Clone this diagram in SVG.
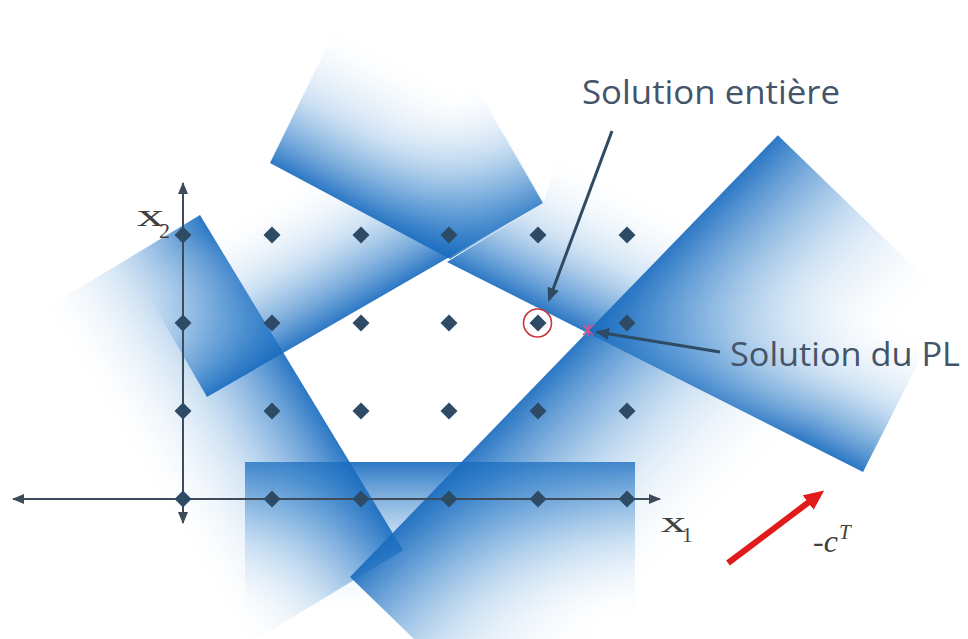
<svg xmlns="http://www.w3.org/2000/svg" xmlns:xlink="http://www.w3.org/1999/xlink" width="968" height="639" viewBox="0 0 968 639">
<defs>
<style>
.band{fill:url(#fade)}
.pt{fill:#2e4b66}
.axis{stroke:#3d4b5a;stroke-width:2;fill:none}
.ptr{stroke:#2f4a63;stroke-width:3;fill:none}
.lbl{font-family:"Open Sans","Liberation Sans",sans-serif;fill:#44546a}
.math{font-family:"Liberation Serif","DejaVu Serif",serif;fill:#404040}
</style>
<linearGradient id="fade" x1="0" y1="0" x2="0" y2="1">
<stop offset="0" stop-color="#1a6cbf" stop-opacity="0.92"/>
<stop offset="0.12" stop-color="#2a79c6" stop-opacity="0.74"/>
<stop offset="0.45" stop-color="#6aa5db" stop-opacity="0.32"/>
<stop offset="0.9" stop-color="#ffffff" stop-opacity="0"/>
</linearGradient>
<linearGradient id="fadeT" gradientUnits="userSpaceOnUse" x1="360" y1="211" x2="438" y2="65">
<stop offset="0" stop-color="#1a6cbf" stop-opacity="0.92"/>
<stop offset="0.12" stop-color="#2a79c6" stop-opacity="0.74"/>
<stop offset="0.45" stop-color="#6aa5db" stop-opacity="0.32"/>
<stop offset="0.95" stop-color="#ffffff" stop-opacity="0"/>
</linearGradient>
<linearGradient id="fadeR2" gradientUnits="userSpaceOnUse" x1="655" y1="367" x2="727" y2="224">
<stop offset="0" stop-color="#1a6cbf" stop-opacity="0.92"/>
<stop offset="0.12" stop-color="#2a79c6" stop-opacity="0.74"/>
<stop offset="0.45" stop-color="#6aa5db" stop-opacity="0.32"/>
<stop offset="0.95" stop-color="#ffffff" stop-opacity="0"/>
</linearGradient>
<path id="dia" d="M0,-8.5 L8.5,0 L0,8.5 L-8.5,0 Z"/>
<marker id="ah" viewBox="0 0 12 10" refX="11" refY="5" markerWidth="12" markerHeight="10" markerUnits="userSpaceOnUse" orient="auto-start-reverse">
<path d="M0,0 L12,5 L0,10 Z" fill="#3d4b5a"/>
</marker>
<marker id="ap" viewBox="0 0 14 12" refX="12" refY="6" markerWidth="14" markerHeight="12" markerUnits="userSpaceOnUse" orient="auto">
<path d="M0,0 L14,6 L0,12 Z" fill="#2f4a63"/>
</marker>
<marker id="ar" viewBox="0 0 20 18" refX="1" refY="9" markerWidth="20" markerHeight="18" markerUnits="userSpaceOnUse" orient="auto">
<path d="M0,0 L20,9 L0,18 Z" fill="#e11b1b"/>
</marker>
</defs>
<rect width="968" height="639" fill="#ffffff"/>
<g id="constraints">
<g id="c-bottom"><rect class="band" x="245" y="462" width="390" height="177"/></g>
<g id="c-left"><rect class="band" transform="translate(200,215) rotate(58.79)" x="0" y="0" width="392" height="210"/></g>
<g id="c-upper-left"><rect class="band" transform="translate(543,203) rotate(150)" x="0" y="0" width="388" height="160"/></g>
<g id="c-top"><polygon points="270,163 450,259 543,203 468,60 340,20" fill="url(#fadeT)"/></g>
<g id="c-upper-right"><polygon points="447,262 863,472 931,338 560,152 543,203" fill="url(#fadeR2)"/></g>
<g id="c-right"><rect class="band" transform="translate(350,577) rotate(-45.92)" x="0" y="0" width="615" height="250"/></g>
</g>
<g id="axes">
<line class="axis" x1="183" y1="523" x2="183" y2="183" marker-start="url(#ah)" marker-end="url(#ah)"/>
<line class="axis" x1="13" y1="499" x2="660" y2="499" marker-start="url(#ah)" marker-end="url(#ah)"/>
</g>
<g id="points">
<use href="#dia" class="pt" x="183" y="235"/><use href="#dia" class="pt" x="272" y="235"/><use href="#dia" class="pt" x="361" y="235"/><use href="#dia" class="pt" x="449" y="235"/><use href="#dia" class="pt" x="538" y="235"/><use href="#dia" class="pt" x="627" y="235"/>
<use href="#dia" class="pt" x="183" y="323"/><use href="#dia" class="pt" x="272" y="323"/><use href="#dia" class="pt" x="361" y="323"/><use href="#dia" class="pt" x="449" y="323"/><use href="#dia" class="pt" x="538" y="323"/><use href="#dia" class="pt" x="627" y="323"/>
<use href="#dia" class="pt" x="183" y="411"/><use href="#dia" class="pt" x="272" y="411"/><use href="#dia" class="pt" x="361" y="411"/><use href="#dia" class="pt" x="449" y="411"/><use href="#dia" class="pt" x="538" y="411"/><use href="#dia" class="pt" x="627" y="411"/>
<use href="#dia" class="pt" x="183" y="499"/><use href="#dia" class="pt" x="272" y="499"/><use href="#dia" class="pt" x="361" y="499"/><use href="#dia" class="pt" x="449" y="499"/><use href="#dia" class="pt" x="538" y="499"/><use href="#dia" class="pt" x="627" y="499"/>
</g>
<g id="integer-solution"><circle cx="537.5" cy="323" r="14" fill="none" stroke="#c8363a" stroke-width="1.6"/></g>
<g id="lp-solution" stroke="#d9548a" stroke-width="1.6"><line x1="583" y1="325" x2="593" y2="335"/><line x1="583" y1="335" x2="593" y2="325"/><line x1="588" y1="324" x2="588" y2="336"/></g>
<g id="connectors">
<line class="ptr" x1="612" y1="131" x2="549" y2="300" marker-end="url(#ap)"/>
<line class="ptr" x1="720" y1="352" x2="597" y2="332" marker-end="url(#ap)"/>
<line x1="728" y1="563" x2="809" y2="502" stroke="#e11b1b" stroke-width="6" marker-end="url(#ar)"/>
</g>
<g id="labels">
<text class="lbl" x="582" y="104" font-size="32" textLength="258" lengthAdjust="spacingAndGlyphs">Solution entière</text>
<text class="lbl" x="730" y="366" font-size="32" textLength="230" lengthAdjust="spacingAndGlyphs">Solution du PL</text>
<text class="math" x="137" y="226" font-size="32" textLength="27" lengthAdjust="spacingAndGlyphs">x</text>
<text class="math" x="159" y="238" font-size="22">2</text>
<text class="math" x="661" y="532" font-size="30" textLength="25" lengthAdjust="spacingAndGlyphs">x</text>
<text class="math" x="682" y="542" font-size="21">1</text>
<text class="math" x="813" y="552" font-size="32" font-style="italic">-c</text>
<text class="math" x="839" y="539" font-size="21" font-style="italic">T</text>
</g>
</svg>
